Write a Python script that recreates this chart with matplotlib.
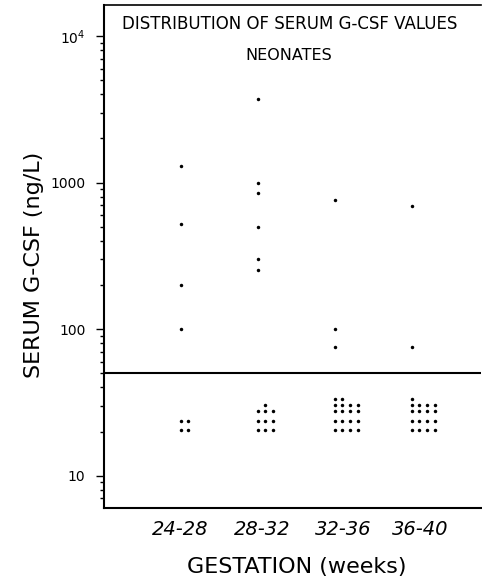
import numpy as np
import matplotlib
matplotlib.use("Agg")
import matplotlib.pyplot as plt
from matplotlib.ticker import FixedLocator, LogLocator, NullFormatter

# measured serum G-CSF values (ng/L), one list per gestation group
groups = ["24-28", "28-32", "32-36", "36-40"]
group_x = [1, 2, 3, 4]
high_vals = [
    [1300, 520, 200, 100],
    [3700, 1000, 850, 500, 300, 255],
    [760, 100, 76],
    [690, 76],
]
# values below detection limit, drawn as stacked dot rows
low_levels = [33.5, 30.5, 27.5, 23.5, 20.5]
low_counts = [
    [0, 0, 0, 2, 2],
    [0, 1, 3, 3, 3],
    [2, 4, 4, 4, 4],
    [1, 4, 4, 4, 4],
]
low_start = [
    [0, 0, 0, 0, 0],
    [0, 1, 0, 0, 0],
    [0, 0, 0, 0, 0],
    [0, 0, 0, 0, 0],
]
detect_limit = 50
label_x = [0.98, 2.05, 3.1, 4.1]

W, H = 482, 579
fig = plt.figure(figsize=(W / 100, H / 100), dpi=100)
left, right, top, bottom = 104.3, 481.0, 5.3, 507.7
ax = fig.add_axes([left / W, 1 - bottom / H, (right - left) / W, (bottom - top) / H])

STEP = 0.103
for gx, vals, counts, starts in zip(group_x, high_vals, low_counts, low_start):
    ax.plot([gx] * len(vals), vals, "o", ms=2.5, color="black", mec="none")
    xs, ys = [], []
    for lvl, n, s in zip(low_levels, counts, starts):
        for k in range(n):
            xs.append(gx - 0.01 + (s + k) * STEP)
            ys.append(lvl)
    ax.plot(xs, ys, "o", ms=2.5, color="black", mec="none")

ax.axhline(detect_limit, color="black", lw=1.5)

ax.set_yscale("log")
ax.set_ylim(6.05, 16200)
ax.set_xlim(0, (right - left) / 77.0)

ax.yaxis.set_major_locator(FixedLocator([10, 100, 1000, 10000]))
ax.set_yticklabels(["10", "100", "1000", r"$10^4$"], fontsize=10)
ax.yaxis.set_minor_locator(LogLocator(base=10, subs=np.arange(2, 10)))
ax.yaxis.set_minor_formatter(NullFormatter())
ax.tick_params(axis="y", which="major", length=5.5, width=1.0, pad=8, direction="out")
ax.tick_params(axis="y", which="minor", length=3.2, width=1.0, direction="out")

ax.set_xticks(label_x)
ax.set_xticklabels(groups, fontsize=14, fontstyle="italic")
ax.tick_params(axis="x", length=0, pad=9)

for s in ["left", "bottom"]:
    ax.spines[s].set_linewidth(1.5)
ax.spines["top"].set_linewidth(1.2)
ax.spines["right"].set_visible(False)

fig.text(290 / W, 1 - 29.3 / H, "DISTRIBUTION OF SERUM G-CSF VALUES",
         ha="center", va="baseline", fontsize=12)
fig.text(289 / W, 1 - 60 / H, "NEONATES", ha="center", va="baseline", fontsize=11.5)
fig.text(34 / W, 1 - 265 / H, "SERUM G-CSF (ng/L)", rotation=90,
         ha="center", va="center", fontsize=16)
fig.text(297 / W, 1 - 573.3 / H, "GESTATION (weeks)", ha="center",
         va="baseline", fontsize=16)

fig.savefig("out.png", dpi=100, facecolor="white")
